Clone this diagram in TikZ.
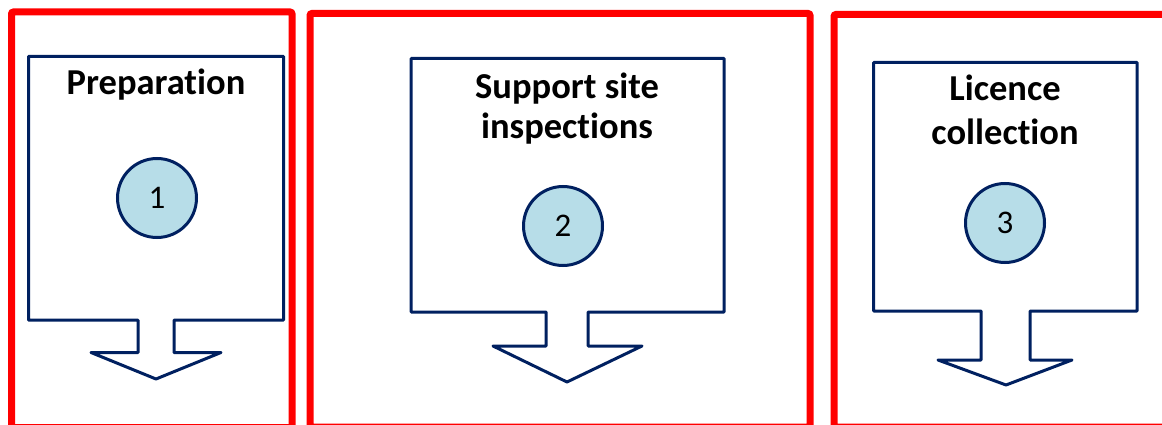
\documentclass[tikz,border=0pt]{standalone}
\usepackage{fontspec}
\setmainfont{Carlito}[Ligatures=CommonOff]
\definecolor{navy}{RGB}{0,32,96}
\definecolor{framered}{RGB}{255,0,0}
\definecolor{disc}{RGB}{183,221,232}
\begin{document}
\begin{tikzpicture}[x=1pt,y=-1pt,
  redframe/.style={draw=framered,line width=7pt,rounded corners=2pt},
  callout/.style={draw=navy,line width=3pt,line join=round,fill=white},
  numdisc/.style={circle,draw=navy,line width=3pt,fill=disc,minimum size=79pt,inner sep=0pt,font=\fontsize{33}{35}\selectfont},
  titletext/.style={anchor=base,inner sep=0pt,font=\bfseries\fontsize{36.5}{40}\selectfont}]
\useasboundingbox (0,0) rectangle (1162,425);
\begin{scope}
\clip (0,0) rectangle (1162,425);
\draw[redframe] (11.5,12) rectangle (292,427.5);
\draw[redframe] (310,13.5) rectangle (810,427);
\draw[redframe] (834,14.5) rectangle (1200,427);
\end{scope}
% callout 1
\draw[callout] (28.5,56.5) -- (283.5,56.5) -- (283.5,320) -- (174,320) -- (174,352.5) -- (221,352.5) -- (156,379) -- (91,352.5) -- (138,352.5) -- (138,320) -- (28.5,320) -- cycle;
% callout 2
\draw[callout] (411,58.5) -- (724,58.5) -- (724,312) -- (588,312) -- (588,346) -- (642,346) -- (567,382) -- (493,346) -- (546,346) -- (546,312) -- (411,312) -- cycle;
% callout 3
\draw[callout] (873.5,62.5) -- (1137,62.5) -- (1137,311) -- (1030,311) -- (1030,360) -- (1072,360) -- (1006,385) -- (938,360) -- (981,360) -- (981,311) -- (873.5,311) -- cycle;
% titles
\node[titletext] (t1) at (156,95) {Preparation};
\node[titletext] (t2a) at (567,99) {Support site};
\node[titletext] (t2b) at (567,139) {inspections};
\node[titletext] (t3a) at (1005,101) {Licence};
\node[titletext] (t3b) at (1005,145) {collection};
% numbers
\node[numdisc] (n1) at (157,198) {1};
\node[numdisc] (n2) at (563,226) {2};
\node[numdisc] (n3) at (1005,223) {3};
\end{tikzpicture}
\end{document}
